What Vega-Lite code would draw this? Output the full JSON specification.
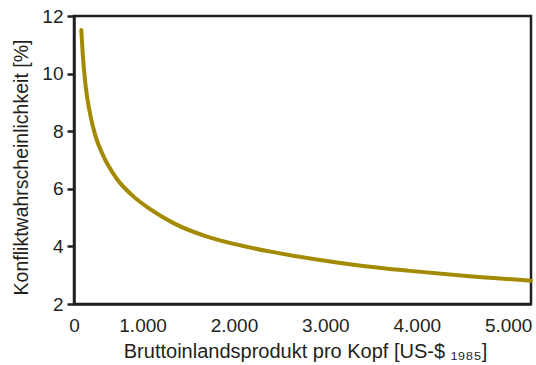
{
  "$schema": "https://vega.github.io/schema/vega-lite/v6.json",
  "autosize": "none",
  "padding": {"left": 74, "top": 16, "right": 5, "bottom": 61},
  "width": 457,
  "height": 288,
  "background": "white",
  "config": {
    "view": {"stroke": "#231f20", "strokeWidth": 2.5},
    "font": "Liberation Sans",
    "axis": {
      "labelFont": "Liberation Sans",
      "titleFont": "Liberation Sans",
      "labelFontSize": 19,
      "titleFontSize": 20,
      "titleFontWeight": "normal",
      "labelColor": "#231f20",
      "titleColor": "#231f20",
      "domainColor": "#231f20",
      "domainWidth": 2.5,
      "tickColor": "#231f20",
      "tickWidth": 2.5,
      "grid": false
    }
  },
  "data": {
    "values": [
      {"bip": 330, "p": 11.51},
      {"bip": 345, "p": 10.7},
      {"bip": 378, "p": 9.55},
      {"bip": 425, "p": 8.62},
      {"bip": 487, "p": 7.81},
      {"bip": 567, "p": 7.17},
      {"bip": 720, "p": 6.34},
      {"bip": 906, "p": 5.72},
      {"bip": 1071, "p": 5.32},
      {"bip": 1344, "p": 4.8},
      {"bip": 1705, "p": 4.34},
      {"bip": 2077, "p": 4.03},
      {"bip": 2416, "p": 3.81},
      {"bip": 2905, "p": 3.545},
      {"bip": 3412, "p": 3.32},
      {"bip": 3926, "p": 3.15},
      {"bip": 4546, "p": 2.97},
      {"bip": 5250, "p": 2.81}
    ]
  },
  "mark": {"type": "line", "color": "#a38a00", "strokeWidth": 4, "interpolate": "monotone", "strokeCap": "round"},
  "encoding": {
    "x": {
      "field": "bip",
      "type": "quantitative",
      "scale": {"domain": [250, 5250], "nice": false, "zero": false},
      "axis": {
        "values": [250, 1000, 2000, 3000, 4000, 5000],
        "labelExpr": "datum.value < 300 ? '0' : replace(format(datum.value, ','), ',', '.')",
        "ticks": false,
        "labelPadding": 12,
        "labelFlush": false,
        "title": "Bruttoinlandsprodukt pro Kopf [US-$ ₁₉₈₅]",
        "titlePadding": 6,
        "titleX": 231
      }
    },
    "y": {
      "field": "p",
      "type": "quantitative",
      "scale": {"domain": [2, 12], "nice": false, "zero": false},
      "axis": {
        "values": [2, 4, 6, 8, 10, 12],
        "tickSize": 7,
        "labelPadding": 4,
        "title": "Konfliktwahrscheinlichkeit [%]",
        "titleFontSize": 19.5,
        "titleY": 151,
        "titlePadding": 10
      }
    }
  }
}
